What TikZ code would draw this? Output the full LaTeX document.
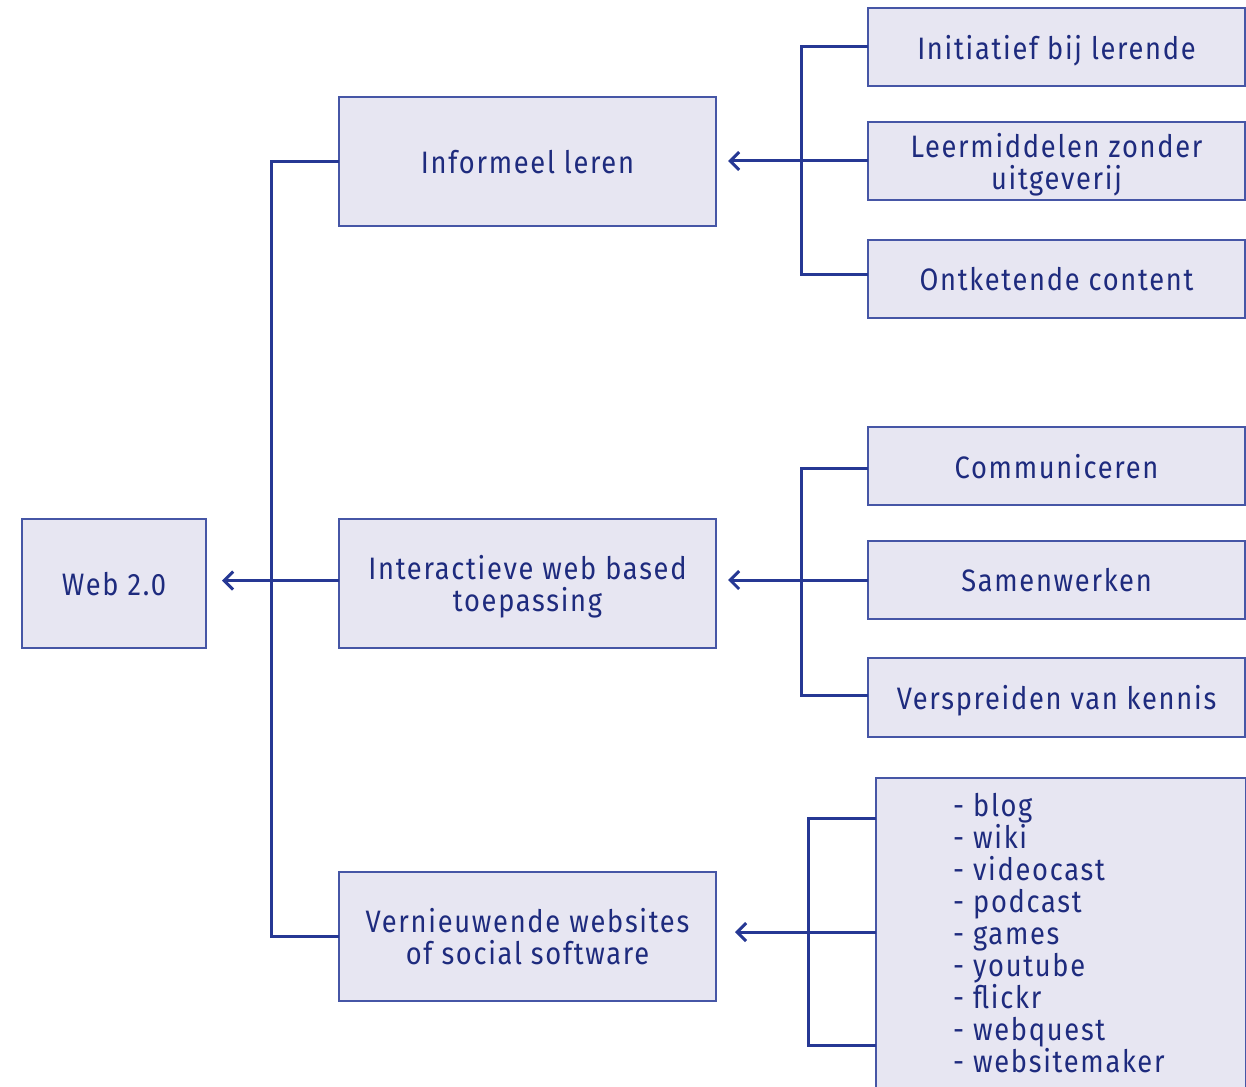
\documentclass[tikz,border=0pt]{standalone}
\usepackage{fontspec}
\setmainfont{Fira Sans}[FakeStretch=0.88,LetterSpace=5.5]
\usetikzlibrary{arrows.meta}
\definecolor{boxfill}{HTML}{E7E6F2}
\definecolor{boxline}{HTML}{4656A6}
\definecolor{conn}{HTML}{263894}
\definecolor{txt}{HTML}{1E2B7E}
\begin{document}
\begin{tikzpicture}[x=1pt,y=-1pt,
  box/.style={draw=boxline,fill=boxfill,line width=1.6pt,inner sep=0pt,outer sep=0pt,
    text=txt,align=center,text depth=0pt,font=\fontsize{31}{32}\selectfont},
  wire/.style={draw=conn,line width=3pt},
  arr/.style={wire,-{Straight Barb[length=9pt,width=18pt,line width=3pt]}}]
\useasboundingbox (0,0) rectangle (1246,1086);
\node[box,minimum width=184pt,minimum height=129pt] (web) at (114,583.5) {Web 2.0};
\node[box,minimum width=377pt,minimum height=129pt] (inf) at (527.5,161.5) {Informeel leren};
\node[box,minimum width=377pt,minimum height=129pt] (inter) at (527.5,583.5) {Interactieve web based\\toepassing};
\node[box,minimum width=377pt,minimum height=129pt] (vern) at (527.5,936.5) {Vernieuwende websites\\of social software};
\node[box,minimum width=377pt,minimum height=78pt] (init) at (1056.5,47) {Initiatief bij lerende};
\node[box,minimum width=377pt,minimum height=78pt] (leer) at (1056.5,161) {Leermiddelen zonder\\uitgeverij};
\node[box,minimum width=377pt,minimum height=78pt] (ont) at (1056.5,279) {Ontketende content};
\node[box,minimum width=377pt,minimum height=78pt] (comm) at (1056.5,466) {Communiceren};
\node[box,minimum width=377pt,minimum height=78pt] (samen) at (1056.5,580) {Samenwerken};
\node[box,minimum width=377pt,minimum height=79pt] (versp) at (1056.5,697.5) {Verspreiden van kennis};
\draw[draw=boxline,fill=boxfill,line width=1.6pt] (876,778) rectangle (1246,1095);
\node[anchor=north west,align=left,text=txt,inner sep=0pt,font=\fontsize{31}{32}\selectfont] (list) at (953,793)
  {- blog\\- wiki\\- videocast\\- podcast\\- games\\- youtube\\- flickr\\- webquest\\- websitemaker};
\coordinate (l1) at (876,818);
\coordinate (l2) at (876,932);
\coordinate (l3) at (876,1045);
% left bus
\draw[wire] (inf.west) -- ++(-68,0) |- (vern.west);
\draw[arr,shorten >=16pt] ([yshift=3pt]inter.west) -- ([yshift=3pt]inter.west -| web.east);
% top group
\draw[wire] (init.west) -- ++(-67,0) |- ([yshift=5pt]ont.west);
\draw[arr,shorten >=12pt] (leer.west) -- (leer.west -| inf.east);
% middle group
\draw[wire] ([yshift=-2pt]comm.west) -- ++(-67,0) |- ([yshift=2pt]versp.west);
\draw[arr,shorten >=12pt] (samen.west) -- (samen.west -| inter.east);
% bottom group
\draw[wire] (l1) -- ++(-68,0) |- (l3);
\draw[arr,shorten >=19pt] (l2) -- (l2 -| vern.east);
\end{tikzpicture}
\end{document}
